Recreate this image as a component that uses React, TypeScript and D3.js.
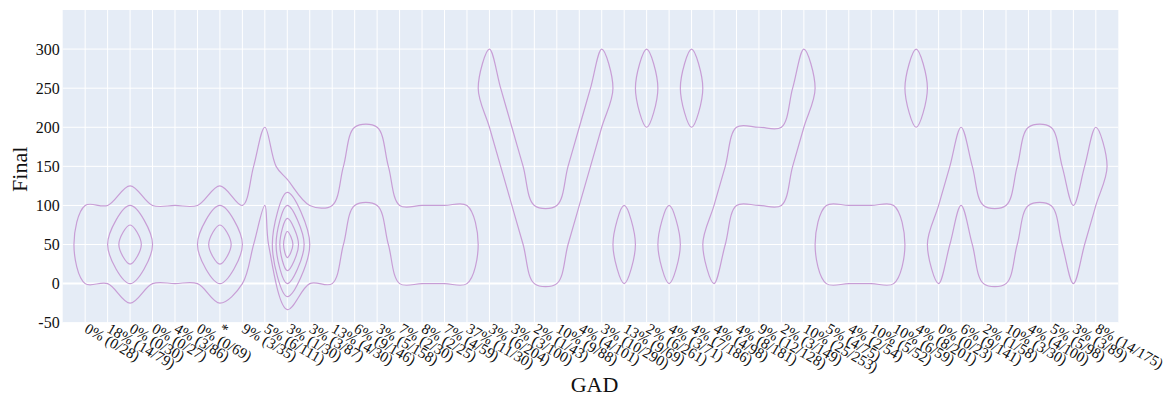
import React from 'react';
import * as d3 from 'd3';

// ---------------- data ----------------
const categories = [
  '0% (0/28)', '18% (14/79)', '0% (0/30)', '0% (0/27)', '4% (3/86)', '0% (0/69)', '*',
  '9% (3/35)', '5% (6/111)', '3% (1/30)', '3% (3/87)', '13% (4/30)', '6% (9/146)',
  '3% (5/158)', '7% (2/30)', '8% (2/25)', '7% (4/59)', '37% (11/30)', '3% (6/204)',
  '3% (3/100)', '2% (1/43)', '10% (9/88)', '4% (4/101)', '3% (10/290)', '13% (9/69)',
  '2% (6/261)', '4% (3/71)', '4% (7/186)', '4% (4/98)', '4% (8/181)', '9% (12/128)',
  '2% (3/149)', '10% (25/253)', '5% (4/75)', '4% (2/54)', '10% (5/52)', '10% (6/59)',
  '4% (8/201)', '0% (0/23)', '6% (9/141)', '2% (1/58)', '10% (3/30)', '4% (4/100)',
  '5% (5/98)', '3% (3/89)', '8% (14/175)'
];

// counts of "Final" per GAD category in bins [0,100), [100,200), [200,300)
const binCenters = [50, 150, 250];
const countsBin0 = [1, 1, 2, 1, 1, 1, 2, 1, 0, 3, 1, 1, 0, 0, 1, 1, 1, 1, 0, 0, 1, 1, 0, 0, 1, 0, 1, 0, 1, 0, 0, 0, 0, 1, 1, 1, 1, 0, 1, 0, 1, 1, 0, 0, 1, 0];
const countsBin1 = [0, 0, 0, 0, 0, 0, 0, 0, 1, 0, 0, 0, 1, 1, 0, 0, 0, 0, 0, 1, 0, 0, 1, 0, 0, 0, 0, 0, 0, 1, 1, 1, 0, 0, 0, 0, 0, 0, 0, 1, 0, 0, 1, 1, 0, 1];
const countsBin2 = [0, 0, 0, 0, 0, 0, 0, 0, 0, 0, 0, 0, 0, 0, 0, 0, 0, 0, 1, 0, 0, 0, 0, 1, 0, 1, 0, 1, 0, 0, 0, 0, 1, 0, 0, 0, 0, 1, 0, 0, 0, 0, 0, 0, 0, 0];
const binSize = 100;
const contourLevels = [0.5, 1, 1.5, 2, 2.5];
const yTicks = [-50, 0, 50, 100, 150, 200, 250, 300];

// ---------------- layout ----------------
const W = 1168;
const H = 397;
const plotLeft = 62.7;
const plotRight = 1118.3;
const plotTop = 10;
const plotBottom = 322.7;
const FONT = "'Liberation Serif', 'Times New Roman', Times, serif";
const LINE_COLOR = 'rgb(200,158,214)';

type Pt = [number, number];

// marching squares with linear interpolation (plotly-like saddle handling)
function contourRings(z: number[][], xs: number[], ys: number[], L: number): Pt[][] {
  const R = z.length;
  const C = z[0].length;
  const nodes = new Map<string, { p: Pt; n: string[] }>();
  const getNode = (key: string, pf: () => Pt) => {
    let nd = nodes.get(key);
    if (!nd) {
      nd = { p: pf(), n: [] };
      nodes.set(key, nd);
    }
    return nd;
  };
  const interp = (x1: number, y1: number, v1: number, x2: number, y2: number, v2: number): Pt => {
    const t = (L - v1) / (v2 - v1);
    return [x1 + t * (x2 - x1), y1 + t * (y2 - y1)];
  };
  for (let r = 0; r < R - 1; r++) {
    for (let c = 0; c < C - 1; c++) {
      const a = z[r][c], b = z[r][c + 1], cc = z[r + 1][c + 1], d = z[r + 1][c];
      const ha = a > L, hb = b > L, hc = cc > L, hd = d > L;
      const keys = [`h${c}_${r}`, `v${c + 1}_${r}`, `h${c}_${r + 1}`, `v${c}_${r}`];
      const pfs = [
        () => interp(xs[c], ys[r], a, xs[c + 1], ys[r], b),
        () => interp(xs[c + 1], ys[r], b, xs[c + 1], ys[r + 1], cc),
        () => interp(xs[c], ys[r + 1], d, xs[c + 1], ys[r + 1], cc),
        () => interp(xs[c], ys[r], a, xs[c], ys[r + 1], d),
      ];
      const cross = [ha !== hb, hb !== hc, hd !== hc, ha !== hd];
      const idx = [0, 1, 2, 3].filter((i) => cross[i]);
      let segs: [number, number][] = [];
      if (idx.length === 2) segs = [[idx[0], idx[1]]];
      else if (idx.length === 4) {
        const avg = (a + b + cc + d) / 4;
        const connected = !(L > avg);
        if (ha && hc) segs = connected ? [[0, 1], [2, 3]] : [[0, 3], [1, 2]];
        else segs = connected ? [[0, 3], [1, 2]] : [[0, 1], [2, 3]];
      }
      for (const [i, j] of segs) {
        const ni = getNode(keys[i], pfs[i]);
        const nj = getNode(keys[j], pfs[j]);
        ni.n.push(keys[j]);
        nj.n.push(keys[i]);
      }
    }
  }
  const visited = new Set<string>();
  const rings: Pt[][] = [];
  for (const key of nodes.keys()) {
    if (visited.has(key)) continue;
    const ring: Pt[] = [];
    let prev: string | null = null;
    let cur: string | undefined = key;
    while (cur !== undefined && !visited.has(cur)) {
      visited.add(cur);
      const node = nodes.get(cur)!;
      ring.push(node.p);
      const next: string | undefined = node.n[0] !== prev ? node.n[0] : node.n[1];
      prev = cur;
      cur = next;
    }
    rings.push(ring);
  }
  return rings;
}

function makeTangent(prev: Pt, cur: Pt, next: Pt, s: number): [Pt, Pt] {
  const d1x = prev[0] - cur[0], d1y = prev[1] - cur[1];
  const d2x = next[0] - cur[0], d2y = next[1] - cur[1];
  const d1a = Math.pow(d1x * d1x + d1y * d1y, 0.25);
  const d2a = Math.pow(d2x * d2x + d2y * d2y, 0.25);
  const numx = (d2a * d2a * d1x - d1a * d1a * d2x) * s;
  const numy = (d2a * d2a * d1y - d1a * d1a * d2y) * s;
  const den1 = 3 * d2a * (d1a + d2a);
  const den2 = 3 * d1a * (d1a + d2a);
  return [
    [cur[0] + (den1 ? numx / den1 : 0), cur[1] + (den1 ? numy / den1 : 0)],
    [cur[0] - (den2 ? numx / den2 : 0), cur[1] - (den2 ? numy / den2 : 0)],
  ];
}

function smoothClosed(pts: Pt[], s: number): string {
  const n = pts.length;
  const f = (p: Pt) => `${p[0].toFixed(2)},${p[1].toFixed(2)}`;
  const t: [Pt, Pt][] = [];
  for (let i = 0; i < n; i++) {
    t[i] = makeTangent(pts[i === 0 ? n - 1 : i - 1], pts[i], pts[(i + 1) % n], s);
  }
  let path = 'M' + f(pts[0]);
  for (let i = 1; i < n; i++) path += 'C' + f(t[i - 1][1]) + ' ' + f(t[i][0]) + ' ' + f(pts[i]);
  path += 'C' + f(t[n - 1][1]) + ' ' + f(t[0][0]) + ' ' + f(pts[0]) + 'Z';
  return path;
}

export default function App() {
  const x = d3.scaleLinear().domain([-1, categories.length]).range([plotLeft, plotRight]);
  const y = d3.scaleLinear().domain([-50, 350]).range([plotBottom, plotTop]);

  // padded grid (one empty bin on each side)
  const nCat = categories.length;
  const xs = d3.range(-1, nCat + 1);
  const ys = [binCenters[0] - binSize, ...binCenters, binCenters[binCenters.length - 1] + binSize];
  const rowsData = [countsBin0, countsBin1, countsBin2];
  const z: number[][] = ys.map((_, r) =>
    xs.map((_, c) => {
      if (r === 0 || r === ys.length - 1 || c === 0 || c === xs.length - 1) return 0;
      return rowsData[r - 1][c - 1];
    })
  );

  const paths: string[] = [];
  for (const L of contourLevels) {
    const rings = contourRings(z, xs, ys, L);
    for (const ring of rings) {
      const px: Pt[] = [];
      for (const p of ring) {
        const q: Pt = [x(p[0]), y(p[1])];
        const last = px[px.length - 1];
        if (last && Math.hypot(last[0] - q[0], last[1] - q[1]) < 0.5) continue;
        px.push(q);
      }
      if (px.length > 2 && Math.hypot(px[0][0] - px[px.length - 1][0], px[0][1] - px[px.length - 1][1]) < 0.5) px.pop();
      if (px.length >= 3) paths.push(smoothClosed(px, 1));
    }
  }

  const xLabelY = 327;

  return (
    <svg width={W} height={H} style={{ position: 'absolute', left: 0, top: 0, background: '#fff' }}>
      <rect x={plotLeft} y={plotTop} width={plotRight - plotLeft} height={plotBottom - plotTop} fill="#E5ECF6" />
      <g>
        {categories.map((_, i) => (
          <line key={'gx' + i} x1={x(i)} x2={x(i)} y1={plotTop} y2={plotBottom} stroke="#fff" strokeWidth={1} />
        ))}
        {yTicks.map((t) => (
          <line key={'gy' + t} x1={plotLeft} x2={plotRight} y1={y(t)} y2={y(t)} stroke="#fff" strokeWidth={t === 0 ? 2 : 1} />
        ))}
      </g>
      <g>
        {paths.map((d, i) => (
          <path key={'c' + i} d={d} fill="none" stroke={LINE_COLOR} strokeWidth={1.2} />
        ))}
      </g>
      <g fontFamily={FONT} fontSize={16} fill="#111">
        {yTicks.map((t) => (
          <text key={'ty' + t} x={plotLeft - 3} y={y(t)} dy="0.35em" textAnchor="end">
            {t}
          </text>
        ))}
      </g>
      <g fontFamily={FONT} fontSize={15} fill="#111">
        {categories.map((c, i) => (
          <g key={'tx' + i} transform={`translate(${x(i) + 1},${xLabelY}) rotate(30)`}>
            <text x={0} y={0} dy="0.35em" textAnchor="start">
              {c}
            </text>
          </g>
        ))}
      </g>
      <g fontFamily={FONT} fontSize={22} fill="#111">
        <text x={(plotLeft + plotRight) / 2 + 4} y={392} textAnchor="middle">
          GAD
        </text>
        <text transform={`translate(27,${(plotTop + plotBottom) / 2 + 3}) rotate(-90)`} textAnchor="middle">
          Final
        </text>
      </g>
    </svg>
  );
}
